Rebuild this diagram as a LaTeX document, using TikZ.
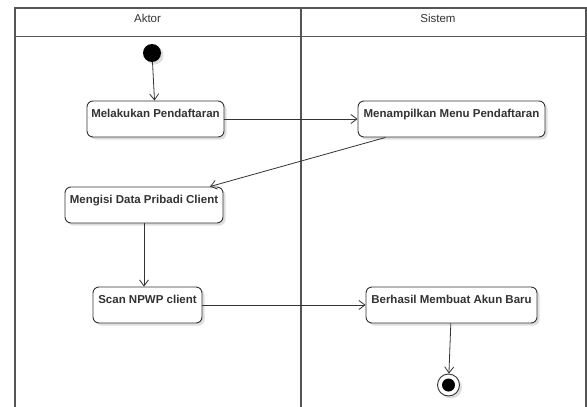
\documentclass[tikz,border=0pt]{standalone}
\usepackage{fontspec}
\setmainfont{Liberation Sans}
\usetikzlibrary{arrows.meta,shadows}

\definecolor{ink}{HTML}{333333}
\definecolor{lane}{HTML}{555555}

\tikzset{
  shade3/.style={drop shadow={shadow xshift=2.5pt,shadow yshift=-2.5pt,opacity=0.13,fill=black}},
  action/.style={draw=ink,line width=0.9pt,rounded corners=6pt,fill=white,shade3,
    font=\fontsize{11.5}{13}\selectfont\bfseries,text=ink,
    inner xsep=2pt,inner ysep=3pt,text height=13pt,text depth=17pt,minimum height=36pt},
  lanetitle/.style={font=\fontsize{11.5}{13}\selectfont,text=ink,anchor=base,inner sep=0pt},
  lanerule/.style={draw=lane,line width=1.1pt},
  flow/.style={draw=ink,line width=0.8pt,-{Straight Barb[length=6pt,width=9pt,line width=0.8pt]}},
  startdot/.style={circle,fill=black,minimum size=18pt,inner sep=0pt,shade3},
  enddot/.style={circle,draw=ink,line width=0.9pt,fill=white,minimum size=22pt,inner sep=0pt,shade3},
}

\begin{document}
\begin{tikzpicture}[x=1pt,y=-1pt]
  \useasboundingbox[fill=white] (0,0) rectangle (587,407);

  % swimlane frame
  \draw[lanerule] (15,407) -- (15,8) -- (586,8) -- (586,407);
  \draw[lanerule] (15,36.5) -- (586,36.5);
  \draw[lanerule] (301,8) -- (301,407);
  \node[lanetitle] (laneA) at (147.5,22.5) {Aktor};
  \node[lanetitle] (laneS) at (438,22.5) {Sistem};

  % activities
  \node[startdot] (ini) at (152,53) {};
  \node[action,minimum width=137pt] (daftar) at (155.5,119) {Melakukan Pendaftaran};
  \node[action,minimum width=187pt] (menu) at (451.5,119) {Menampilkan Menu Pendaftaran};
  \node[action,minimum width=158pt] (isi) at (144,205) {Mengisi Data Pribadi Client};
  \node[action,minimum width=109pt] (npwp) at (147.5,305) {Scan NPWP client};
  \node[action,minimum width=171pt] (akun) at (451.5,305) {Berhasil Membuat Akun Baru};
  \node[enddot] (fin) at (448.5,385) {};
  \fill[black] (fin.center) circle (6.5pt);

  % control flow
  \draw[flow] (ini) -- (daftar);
  \draw[flow] (daftar) -- (menu);
  \draw[flow] (menu) -- (isi);
  \draw[flow] (isi.south) -- (isi.south |- npwp.north);
  \draw[flow] (npwp) -- (akun);
  \draw[flow] (akun) -- (fin);
\end{tikzpicture}
\end{document}
